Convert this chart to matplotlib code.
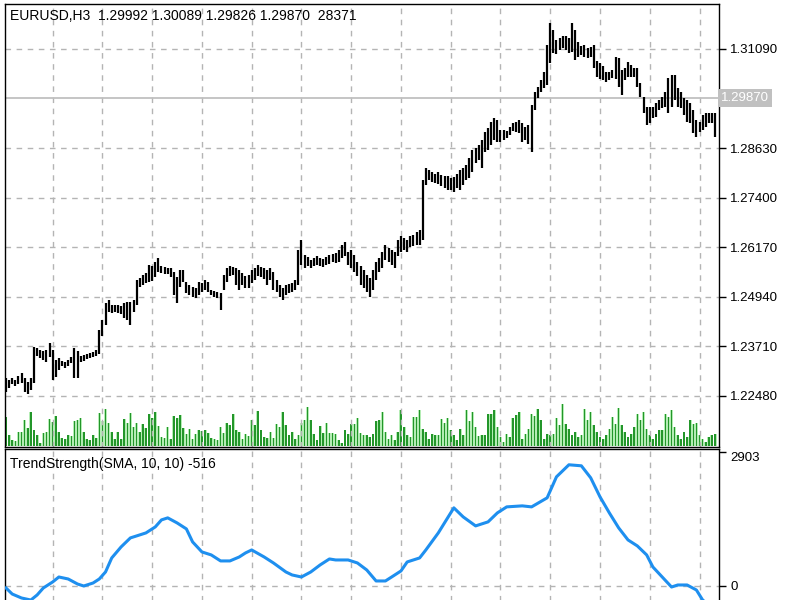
import numpy as np
import matplotlib.pyplot as plt
import matplotlib.transforms as mtransforms

plt.rcParams['font.family'] = ['Liberation Sans', 'DejaVu Sans']

# header of the chart window
symbol = 'EURUSD,H3'
last_ohlc = ['1.29992', '1.30089', '1.29826', '1.29870']
last_volume = '28371'
bid = 1.29870

# H3 bars (high / low)
high = [
    1.2292, 1.2287, 1.2292, 1.2287, 1.2296, 1.2304, 1.2292, 1.2282, 1.2292, 1.2368,
    1.2366, 1.2361, 1.2359, 1.2361, 1.2378, 1.2361, 1.2336, 1.2341, 1.2334, 1.2331,
    1.2336, 1.2344, 1.2366, 1.2359, 1.2346, 1.2349, 1.2351, 1.2354, 1.2356, 1.2361,
    1.2411, 1.2436, 1.2478, 1.2485, 1.2473, 1.2473, 1.2473, 1.2470, 1.2478, 1.2480,
    1.2480, 1.2485, 1.2535, 1.2540, 1.2548, 1.2553, 1.2573, 1.2570, 1.2580, 1.2590,
    1.2570, 1.2568, 1.2565, 1.2565, 1.2555, 1.2543, 1.2560, 1.2560, 1.2530, 1.2523,
    1.2518, 1.2515, 1.2530, 1.2528, 1.2535, 1.2530, 1.2510, 1.2508, 1.2505, 1.2503,
    1.2548, 1.2565, 1.2570, 1.2568, 1.2565, 1.2560, 1.2553, 1.2545, 1.2548, 1.2560,
    1.2565, 1.2573, 1.2568, 1.2565, 1.2560, 1.2565, 1.2555, 1.2535, 1.2523, 1.2515,
    1.2523, 1.2525, 1.2528, 1.2535, 1.2610, 1.2634, 1.2597, 1.2592, 1.2585, 1.2590,
    1.2595, 1.2590, 1.2587, 1.2592, 1.2597, 1.2600, 1.2602, 1.2610, 1.2622, 1.2629,
    1.2605, 1.2610, 1.2597, 1.2580, 1.2570, 1.2560, 1.2548, 1.2540, 1.2560, 1.2580,
    1.2590, 1.2605, 1.2622, 1.2614, 1.2610, 1.2605, 1.2634, 1.2644, 1.2639, 1.2634,
    1.2644, 1.2647, 1.2654, 1.2659, 1.2783, 1.2813, 1.2808, 1.2803, 1.2798, 1.2803,
    1.2796, 1.2793, 1.2793, 1.2788, 1.2791, 1.2798, 1.2808, 1.2813, 1.2821, 1.2838,
    1.2858, 1.2863, 1.2870, 1.2883, 1.2902, 1.2912, 1.2927, 1.2937, 1.2932, 1.2907,
    1.2907, 1.2905, 1.2915, 1.2925, 1.2927, 1.2932, 1.2925, 1.2915, 1.2920, 1.2970,
    1.3002, 1.3015, 1.3032, 1.3052, 1.3119, 1.3174, 1.3156, 1.3131, 1.3136, 1.3141,
    1.3141, 1.3136, 1.3174, 1.3156, 1.3126, 1.3116, 1.3119, 1.3112, 1.3114, 1.3119,
    1.3079, 1.3074, 1.3067, 1.3052, 1.3052, 1.3057, 1.3089, 1.3087, 1.3057, 1.3062,
    1.3077, 1.3069, 1.3062, 1.3062, 1.3024, 1.2990, 1.2965, 1.2965, 1.2965, 1.2975,
    1.2982, 1.2990, 1.3002, 1.3037, 1.3044, 1.3044, 1.3012, 1.3002, 1.2987, 1.2982,
    1.2975, 1.2957, 1.2932, 1.2927, 1.2945, 1.2950, 1.2950, 1.2950, 1.2950,
]
low = [
    1.2257, 1.2267, 1.2277, 1.2272, 1.2277, 1.2279, 1.2257, 1.2252, 1.2262, 1.2279,
    1.2346, 1.2341, 1.2336, 1.2331, 1.2344, 1.2287, 1.2294, 1.2311, 1.2321, 1.2316,
    1.2321, 1.2329, 1.2292, 1.2292, 1.2331, 1.2334, 1.2339, 1.2341, 1.2344, 1.2346,
    1.2351, 1.2396, 1.2423, 1.2455, 1.2453, 1.2455, 1.2453, 1.2450, 1.2440, 1.2436,
    1.2423, 1.2455, 1.2473, 1.2518, 1.2523, 1.2528, 1.2530, 1.2533, 1.2543, 1.2555,
    1.2553, 1.2550, 1.2550, 1.2543, 1.2498, 1.2478, 1.2518, 1.2530, 1.2503, 1.2498,
    1.2493, 1.2490, 1.2498, 1.2505, 1.2510, 1.2505, 1.2498, 1.2493, 1.2490, 1.2460,
    1.2510, 1.2530, 1.2545, 1.2548, 1.2523, 1.2510, 1.2523, 1.2515, 1.2515, 1.2528,
    1.2535, 1.2545, 1.2543, 1.2538, 1.2523, 1.2535, 1.2510, 1.2505, 1.2493, 1.2485,
    1.2498, 1.2503, 1.2505, 1.2510, 1.2523, 1.2573, 1.2565, 1.2570, 1.2565, 1.2570,
    1.2573, 1.2570, 1.2568, 1.2573, 1.2575, 1.2580, 1.2578, 1.2580, 1.2590, 1.2595,
    1.2573, 1.2565, 1.2555, 1.2545, 1.2523, 1.2515, 1.2505, 1.2493, 1.2510, 1.2535,
    1.2555, 1.2565, 1.2585, 1.2580, 1.2573, 1.2565, 1.2595, 1.2605, 1.2610, 1.2605,
    1.2617, 1.2619, 1.2622, 1.2622, 1.2634, 1.2771, 1.2783, 1.2778, 1.2776, 1.2773,
    1.2768, 1.2763, 1.2758, 1.2758, 1.2753, 1.2763, 1.2758, 1.2771, 1.2783, 1.2788,
    1.2803, 1.2826, 1.2833, 1.2813, 1.2853, 1.2858, 1.2870, 1.2883, 1.2878, 1.2878,
    1.2883, 1.2888, 1.2895, 1.2905, 1.2902, 1.2900, 1.2878, 1.2883, 1.2873, 1.2853,
    1.2957, 1.2987, 1.3002, 1.3012, 1.3020, 1.3074, 1.3099, 1.3097, 1.3107, 1.3112,
    1.3107, 1.3099, 1.3102, 1.3082, 1.3089, 1.3094, 1.3089, 1.3087, 1.3089, 1.3062,
    1.3039, 1.3034, 1.3032, 1.3027, 1.3032, 1.3037, 1.3034, 1.3015, 1.2995, 1.3032,
    1.3039, 1.3039, 1.3039, 1.3015, 1.2990, 1.2950, 1.2920, 1.2925, 1.2937, 1.2940,
    1.2957, 1.2962, 1.2965, 1.2950, 1.2965, 1.2982, 1.2965, 1.2962, 1.2945, 1.2927,
    1.2925, 1.2900, 1.2890, 1.2902, 1.2907, 1.2915, 1.2925, 1.2925, 1.2890,
]

# tick volume, thousands
volume_k = [
    29, 11, 6, 5, 14, 14, 26, 18, 34, 16,
    11, 3, 13, 14, 27, 24, 30, 14, 8, 7,
    11, 10, 25, 26, 28, 14, 7, 6, 11, 8,
    33, 25, 37, 23, 14, 7, 14, 7, 27, 23,
    33, 19, 23, 14, 22, 18, 32, 28, 34, 20,
    9, 8, 19, 7, 30, 28, 31, 18, 12, 17,
    7, 12, 16, 15, 16, 13, 8, 7, 6, 19,
    13, 23, 21, 32, 16, 14, 7, 12, 10, 26,
    21, 35, 16, 9, 8, 14, 8, 22, 19, 34,
    21, 11, 14, 7, 11, 23, 26, 39, 26, 12,
    6, 20, 13, 23, 13, 13, 12, 6, 3, 16,
    12, 22, 22, 28, 13, 11, 11, 9, 12, 25,
    26, 34, 14, 7, 11, 6, 14,
    36, 19, 11, 9, 29, 29, 36, 17, 14, 7,
    12, 11, 11, 27, 23, 28, 16, 11, 6, 17,
    11, 36, 25, 34, 19, 10, 11, 11, 32, 32,
    36, 19, 9, 4, 12, 9, 28, 31, 34, 7,
    12, 17, 32, 30, 37, 26, 7, 12, 11, 12,
    28, 21, 42, 22, 17, 11, 14, 9, 11, 37,
    26, 34, 21, 14, 9, 7, 11, 17, 29, 22,
    38, 21, 14, 9, 12, 19, 32, 26, 34, 17,
    11, 7, 12, 16, 16, 32, 29, 36, 19, 11,
    7, 14, 9, 26, 22, 23, 11, 7, 4, 9,
    11, 12,
]

# TrendStrength indicator, sampled at these bars
ts_label = 'TrendStrength(SMA, 10, 10) -516'
ts_max = 2903
ts_bar = [0, 2, 5, 8, 10, 12, 15, 17, 20, 23, 25, 28, 30, 32, 34, 37, 40, 42, 45, 48,
          50, 52, 55, 58, 60, 63, 66, 69, 72, 75, 77, 79, 83, 86, 90, 92, 95, 98, 101, 104,
          106, 110, 113, 116, 119, 122, 124, 127, 129, 133, 135, 139, 142, 144, 147, 151,
          155, 158, 161, 166, 169, 174, 177, 181, 185, 188, 191, 194, 197, 200, 203, 206,
          208, 211, 214, 216, 219, 222, 224, 228]
ts_value = [-43, -174, -260, -304, -195, -43, 87, 195, 152, 43, 0, 65, 152, 304, 608,
            846, 1042, 1085, 1150, 1280, 1432, 1476, 1367, 1237, 955, 738, 673, 543, 543,
            629, 716, 781, 629, 499, 304, 239, 195, 304, 456, 586, 564, 564, 499, 347,
            109, 109, 195, 326, 521, 608, 781, 1150, 1476, 1693, 1497, 1302, 1389, 1584,
            1714, 1736, 1714, 1910, 2365, 2626, 2604, 2344, 1931, 1584, 1259, 998, 868,
            673, 412, 195, -22, 22, 22, -87, -304, -516]

price_ticks = [1.22480, 1.23710, 1.24940, 1.26170, 1.27400, 1.28630, 1.31090]

grid_kw = dict(color='#b4b4b4', linestyle=(0, (4, 4)), linewidth=1)
n = len(high)
x = np.arange(n)
xgrid = np.arange(15, n, 16)

fig = plt.figure(figsize=(8, 6), dpi=100)

# main window
ax = fig.add_axes([5 / 800, 1 - 447 / 600, 714 / 800, 443 / 600])
ax.set_xlim(-0.32, 229.26)
ax.set_ylim(1.21201, 1.32208)

axv = ax.twinx()
axv.set_ylim(-1.5, 441.5)
axv.bar(x, volume_k, width=0.95, color='#b4ecb4', zorder=1)
axv.bar(x, volume_k, width=0.5, color='#23962a', zorder=2)
axv.axis('off')

ax.set_zorder(axv.get_zorder() + 1)
ax.patch.set_visible(False)
ax.set_xticks(xgrid)
ax.set_yticks(price_ticks)
ax.set_yticklabels(['%.5f' % p for p in price_ticks])
ax.grid(True, **grid_kw)
ax.set_axisbelow(True)
ax.axhline(bid, color='#c0c0c0', linewidth=1.3, zorder=1)
ax.vlines(x, low, high, color='black', linewidth=1.6, zorder=3)

ax.tick_params(axis='x', length=0, labelbottom=False)
ax.tick_params(axis='y', left=False, labelleft=False, right=True, labelright=True,
               length=5, width=1, pad=3, labelsize=9.5, colors='black')
for s in ax.spines.values():
    s.set_color('black')
    s.set_linewidth(1.0)

trans = mtransforms.blended_transform_factory(ax.transAxes, ax.transData)
ax.text(1.003, bid, '%.5f' % bid, transform=trans, va='center', ha='left',
        color='white', fontsize=9.5,
        bbox=dict(boxstyle='square,pad=0.25', facecolor='#c0c0c0', edgecolor='none'))

fig.text(10 / 800, 1 - 16 / 600,
         symbol + '  ' + ' '.join(last_ohlc) + '  ' + last_volume,
         fontsize=10, va='center', ha='left')

# indicator window
ax2 = fig.add_axes([5 / 800, 1 - 640 / 600, 714 / 800, 191 / 600])
ax2.set_xlim(-0.32, 229.26)
ax2.set_ylim(-1170, 2968)
ax2.set_xticks(xgrid)
ax2.xaxis.grid(True, **grid_kw)
ax2.axhline(0, **grid_kw)
ax2.set_axisbelow(True)
ax2.plot(ts_bar, ts_value, color='#1e8fef', linewidth=2.2, zorder=3,
         solid_joinstyle='round')
ax2.set_yticks([0, ts_max])
ax2.set_yticklabels(['0', str(ts_max)])
ax2.tick_params(axis='x', length=0, labelbottom=False)
ax2.tick_params(axis='y', left=False, labelleft=False, right=True, labelright=True,
                length=5, width=1, pad=3, labelsize=9.5)
ax2.get_yticklabels()[1].set_va('top')
for s in ax2.spines.values():
    s.set_color('black')
    s.set_linewidth(1.0)

fig.text(10 / 800, 1 - 464 / 600, ts_label, fontsize=10, va='center', ha='left')

fig.savefig('out.png', dpi=100)
